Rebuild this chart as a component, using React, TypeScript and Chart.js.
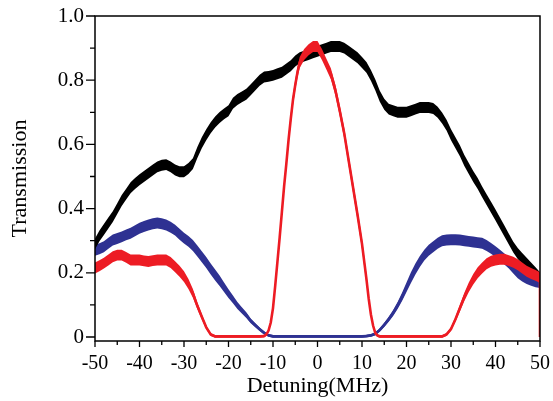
import React, { useEffect, useRef } from 'react';
import { Chart, registerables } from 'chart.js';

Chart.register(...registerables);

// ---- data ----
const detuning = [
  -50, -49, -48, -47, -46, -45, -44, -43, -42, -41,
  -40, -39, -38, -37, -36, -35, -34, -33, -32, -31,
  -30, -29, -28, -27, -26, -25, -24, -23, -22, -21,
  -20, -19, -18, -17, -16, -15, -14, -13, -12, -11,
  -10, -9, -8, -7, -6, -5, -4, -3, -2, -1,
  0, 1, 2, 3, 4, 5, 6, 7, 8, 9,
  10, 11, 12, 13, 14, 15, 16, 17, 18, 19,
  20, 21, 22, 23, 24, 25, 26, 27, 28, 29,
  30, 31, 32, 33, 34, 35, 36, 37, 38, 39,
  40, 41, 42, 43, 44, 45, 46, 47, 48, 49,
  50,
];

const blackValues = [
  0.29, 0.315, 0.335, 0.355, 0.375, 0.40, 0.425, 0.445, 0.465, 0.478,
  0.49, 0.50, 0.51, 0.52, 0.53, 0.535, 0.537, 0.53, 0.52, 0.515,
  0.515, 0.525, 0.54, 0.575, 0.605, 0.63, 0.652, 0.67, 0.684, 0.695,
  0.705, 0.728, 0.74, 0.748, 0.756, 0.77, 0.785, 0.80, 0.81, 0.812,
  0.815, 0.82, 0.825, 0.835, 0.845, 0.86, 0.87, 0.875, 0.88, 0.885,
  0.89, 0.895, 0.90, 0.905, 0.905, 0.905, 0.90, 0.89, 0.88, 0.87,
  0.855, 0.84, 0.815, 0.785, 0.75, 0.725, 0.71, 0.705, 0.70, 0.70,
  0.70, 0.705, 0.71, 0.715, 0.715, 0.715, 0.712, 0.70, 0.682, 0.66,
  0.63, 0.605, 0.58, 0.55, 0.525, 0.50, 0.478, 0.452, 0.428, 0.404,
  0.38, 0.355, 0.33, 0.305, 0.28, 0.26, 0.245, 0.23, 0.215, 0.20,
  0.185,
];

const blueValues = [
  0.27, 0.275, 0.281, 0.292, 0.302, 0.307, 0.312, 0.318, 0.323, 0.331,
  0.339, 0.344, 0.349, 0.353, 0.355, 0.353, 0.349, 0.342, 0.333, 0.32,
  0.308, 0.298, 0.285, 0.268, 0.25, 0.232, 0.212, 0.193, 0.175, 0.155,
  0.135, 0.117, 0.098, 0.083, 0.068, 0.05, 0.037, 0.024, 0.013, 0.005,
  0.002, 0.002, 0.002, 0.002, 0.002, 0.002, 0.002, 0.002, 0.002, 0.002,
  0.002, 0.002, 0.002, 0.002, 0.002, 0.002, 0.002, 0.002, 0.002, 0.002,
  0.002, 0.003, 0.005, 0.01, 0.022, 0.038, 0.055, 0.075, 0.098, 0.125,
  0.155, 0.185, 0.212, 0.235, 0.255, 0.27, 0.281, 0.292, 0.30, 0.302,
  0.303, 0.303, 0.302, 0.30, 0.298, 0.296, 0.294, 0.292, 0.285, 0.276,
  0.266, 0.255, 0.243, 0.23, 0.215, 0.20, 0.19, 0.182, 0.176, 0.171,
  0.168,
];

const redDetuning = [
  -50, -49, -48, -47, -46, -45, -44, -43, -42, -41,
  -40, -39, -38, -37, -36, -35, -34, -33, -32, -31,
  -30, -29, -28, -27, -26, -25, -24, -23, -22, -21,
  -20, -19, -18, -17, -16, -15, -14, -13, -12,
  -11.5, -11, -10.5, -10, -9.5, -9, -8.5, -8, -7.5, -7,
  -6.5, -6, -5.5, -5, -4.5,
  -4, -3, -2, -1, 0, 1, 2, 3, 4, 5, 6, 7, 8, 9, 10, 11,
  11.5, 12, 12.5, 13, 13.5,
  14, 15, 16, 17, 18, 19, 20, 21, 22, 23, 24, 25, 26, 27, 28,
  29, 30, 31, 32, 33, 34, 35, 36, 37, 38, 39,
  40, 41, 42, 43, 44, 45, 46, 47, 48, 49, 50,
  50,
];

const redValues = [
  0.215, 0.222, 0.23, 0.24, 0.25, 0.255, 0.255, 0.248, 0.24, 0.24,
  0.24, 0.237, 0.235, 0.238, 0.24, 0.24, 0.24, 0.232, 0.219, 0.205,
  0.188, 0.165, 0.136, 0.097, 0.063, 0.03, 0.008, 0.002, 0.002, 0.002,
  0.002, 0.002, 0.002, 0.002, 0.002, 0.002, 0.002, 0.002, 0.003,
  0.008, 0.02, 0.045, 0.09, 0.16, 0.235, 0.31, 0.39, 0.47, 0.54,
  0.615, 0.68, 0.74, 0.785, 0.825,
  0.855, 0.88, 0.895, 0.905, 0.905, 0.88, 0.85, 0.82, 0.77, 0.705, 0.635, 0.55, 0.465, 0.38, 0.29, 0.18,
  0.12, 0.07, 0.035, 0.012, 0.004,
  0.002, 0.002, 0.002, 0.002, 0.002, 0.002, 0.002, 0.002, 0.002, 0.002, 0.002, 0.002, 0.002, 0.002, 0.002,
  0.008, 0.025, 0.055, 0.09, 0.125, 0.155, 0.18, 0.2, 0.215, 0.228, 0.236,
  0.24, 0.242, 0.242, 0.238, 0.233, 0.225, 0.215, 0.205, 0.198, 0.192, 0.185,
  0,
];

const xMajorTicks = [-50, -40, -30, -20, -10, 0, 10, 20, 30, 40, 50];
const xMinorTicks = [-45, -35, -25, -15, -5, 5, 15, 25, 35, 45];
const yMajorTicks = [0, 0.2, 0.4, 0.6, 0.8, 1.0];
const yMinorTicks = [0.1, 0.3, 0.5, 0.7, 0.9];

const BLACK = '#000000';
const BLUE = '#2e3192';
const RED = '#ed1c24';
const FONT = "'Liberation Serif', 'Times New Roman', serif";

// visual thickness of the noisy trace (style, not data)
const halfWidth = (v: number) => Math.min(0.017, 0.004 + 0.07 * Math.max(v, 0));

const points = (xs: number[], ys: number[], sign: number) =>
  xs.map((x, i) => ({ x, y: ys[i] + sign * halfWidth(ys[i]) }));

const trace = (label: string, xs: number[], ys: number[], color: string, order: number) => [
  { label: label + '-lo', data: points(xs, ys, -1), borderWidth: 0, borderColor: color, pointRadius: 0, fill: false, order },
  { label: label + '-hi', data: points(xs, ys, 1), borderWidth: 0, borderColor: color, backgroundColor: color, pointRadius: 0, fill: '-1', order },
  { label, data: points(xs, ys, 0), borderWidth: 2.6, borderColor: color, pointRadius: 0, fill: false, order },
];

const axesPlugin = {
  id: 'frameAxes',
  afterDatasetsDraw(chart: any) {
    const { ctx, chartArea, scales } = chart;
    const { left, right, top, bottom } = chartArea;
    const x = scales.x;
    const y = scales.y;
    ctx.save();
    ctx.strokeStyle = '#000';
    ctx.lineWidth = 1.5;
    ctx.strokeRect(left, top, right - left, bottom - top);
    ctx.lineWidth = 1.3;
    ctx.beginPath();
    xMajorTicks.forEach((v) => {
      const p = x.getPixelForValue(v);
      ctx.moveTo(p, bottom);
      ctx.lineTo(p, bottom + 6);
    });
    xMinorTicks.forEach((v) => {
      const p = x.getPixelForValue(v);
      ctx.moveTo(p, bottom);
      ctx.lineTo(p, bottom + 4);
    });
    yMajorTicks.forEach((v) => {
      const p = y.getPixelForValue(v);
      ctx.moveTo(left, p);
      ctx.lineTo(left - 9, p);
    });
    yMinorTicks.forEach((v) => {
      const p = y.getPixelForValue(v);
      ctx.moveTo(left, p);
      ctx.lineTo(left - 5, p);
    });
    ctx.stroke();
    ctx.restore();
  },
};

export default function App() {
  const ref = useRef<HTMLCanvasElement | null>(null);

  useEffect(() => {
    if (!ref.current) return;
    const datasets: any[] = [
      ...trace('red', redDetuning, redValues, RED, 0),
      ...trace('black', detuning, blackValues, BLACK, 1),
      ...trace('blue', detuning, blueValues, BLUE, 2),
    ];
    const chart = new Chart(ref.current, {
      type: 'line',
      data: { datasets },
      options: {
        animation: false,
        responsive: false,
        devicePixelRatio: 1,
        layout: { padding: { left: 0, top: 16, right: 13, bottom: 0 } },
        elements: { line: { tension: 0 } },
        plugins: {
          legend: { display: false },
          tooltip: { enabled: false },
        },
        scales: {
          x: {
            type: 'linear',
            min: -50,
            max: 50,
            afterBuildTicks: (s: any) => {
              s.ticks = xMajorTicks.map((value) => ({ value }));
            },
            afterFit: (s: any) => {
              s.height = 60;
              s.paddingLeft = 0;
              s.paddingRight = 0;
            },
            grid: { display: false, drawTicks: false },
            border: { display: false },
            ticks: {
              color: '#000',
              padding: 11,
              maxRotation: 0,
              font: { family: FONT, size: 20 },
              callback: (v: any) => String(v),
            },
            title: {
              display: true,
              text: 'Detuning(MHz)',
              color: '#000',
              font: { family: FONT, size: 22 },
              padding: { top: 0, bottom: 2 },
            },
          },
          y: {
            type: 'linear',
            min: -0.0125,
            max: 1.0,
            afterBuildTicks: (s: any) => {
              s.ticks = yMajorTicks.map((value) => ({ value }));
            },
            afterFit: (s: any) => {
              s.width = 95;
              s.paddingTop = 0;
              s.paddingBottom = 0;
            },
            grid: { display: false, drawTicks: false },
            border: { display: false },
            ticks: {
              color: '#000',
              padding: 11,
              font: { family: FONT, size: 21 },
              callback: (v: any) => (Number(v) === 0 ? '0' : Number(v).toFixed(1)),
            },
            title: {
              display: true,
              text: 'Transmission',
              color: '#000',
              font: { family: FONT, size: 22 },
              padding: { top: 7, bottom: 0 },
            },
          },
        },
      },
      plugins: [axesPlugin],
    });
    return () => chart.destroy();
  }, []);

  return (
    <div style={{ position: 'absolute', left: 0, top: 0, width: 553, height: 401, background: '#fff' }}>
      <canvas ref={ref} width={553} height={401} style={{ display: 'block', width: 553, height: 401 }} />
    </div>
  );
}
